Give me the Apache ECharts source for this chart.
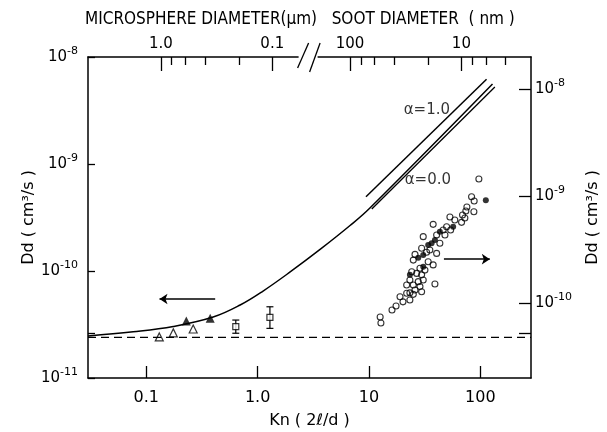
<!DOCTYPE html>
<html>
<head>
<meta charset="utf-8">
<script src="https://cdn.jsdelivr.net/npm/echarts@6/dist/echarts.min.js"></script>
<style>
html,body{margin:0;padding:0;background:#fff}
#main{width:607px;height:432px}
</style>
</head>
<body>
<div id="main"></div>
<script>
// Kn (2l/d), bottom axis
var knMin = 0.03, knMax = 285;
var knLabels = {'0.1': '0.1', '1': '1.0', '10': '10', '100': '100'};

// top axis: diameter -> Kn
var sphereK = 0.1355;   // Kn = sphereK / d (um)
var sootK = 676;        // Kn = sootK / d (nm)
var sphereMajor = [1.0, 0.1];
var sphereMajorText = ['1.0', '0.1'];
var sphereMinor = [0.8, 0.6, 0.4, 0.2];
var sootMajor = [100, 10];
var sootMajorText = ['100', '10'];
var sootMinor = [80, 60, 40, 20, 8, 6, 4];
var breakKn = 2.87;

// extra marks on the two y axes
var leftExtraTick = 2.6e-11;
var rightExtraTick = 5.2e-11;

// theory curve (left axis)
var curveKn = [0.030, 0.0764, 0.175, 0.399, 0.697, 1.12, 1.96, 3.64, 6.76, 10.2, 128.6];
var curveDd = [2.47e-11, 2.70e-11, 3.03e-11, 3.71e-11, 4.81e-11, 6.50e-11, 9.80e-11, 1.59e-10, 2.66e-10, 3.88e-10, 5.60e-9];
var alpha0Kn = [10.6, 135];
var alpha0Dd = [3.79e-10, 5.25e-9];
var alpha1Kn = [9.40, 113.7];
var alpha1Dd = [4.94e-10, 6.19e-9];
var dashKn = [0.03, 285];
var dashDd = [2.4e-11, 2.4e-11];

// microsphere data (left axis)
var openTriKn = [0.131, 0.175, 0.264];
var openTriDd = [2.42e-11, 2.64e-11, 2.87e-11];
var fillTriKn = [0.229, 0.375];
var fillTriDd = [3.41e-11, 3.61e-11];
var squareKn = [0.637, 1.29];
var squareDd = [3.02e-11, 3.69e-11];
var squareLo = [2.62e-11, 2.91e-11];
var squareHi = [3.48e-11, 4.63e-11];

// soot data (right axis)
var sootOpenKn = [97.0, 83.4, 88.0, 75.7, 74.1, 87.5, 69.2, 72.6, 53.3, 59.0, 67.8, 37.7, 49.8, 54.1, 46.4,
  40.5, 48.1, 30.7, 43.3, 29.7, 35.2, 32.9, 40.5, 25.9, 25.0, 34.0, 37.7, 28.7, 31.8, 24.2, 26.8, 29.7,
  30.7, 23.3, 27.7, 39.1, 25.0, 28.7, 21.8, 25.9, 29.7, 23.3, 21.8, 19.0, 25.0, 12.6, 12.8, 16.1, 17.5, 20.2, 23.3];
var sootOpenDd = [1.45e-9, 9.89e-10, 9.02e-10, 7.93e-10, 7.28e-10, 7.16e-10, 6.67e-10, 6.25e-10, 6.40e-10, 6.00e-10,
  5.70e-10, 5.46e-10, 5.19e-10, 4.83e-10, 4.83e-10, 4.34e-10, 4.34e-10, 4.19e-10, 3.63e-10, 3.26e-10, 3.14e-10,
  2.99e-10, 2.92e-10, 2.86e-10, 2.53e-10, 2.44e-10, 2.28e-10, 2.12e-10, 2.04e-10, 1.97e-10, 1.90e-10, 1.84e-10,
  1.65e-10, 1.65e-10, 1.59e-10, 1.51e-10, 1.48e-10, 1.43e-10, 1.48e-10, 1.33e-10, 1.28e-10, 1.25e-10, 1.24e-10,
  1.15e-10, 1.21e-10, 7.43e-11, 6.53e-11, 8.65e-11, 9.42e-11, 1.03e-10, 1.07e-10];
var sootFillKn = [112, 57.0, 43.3, 39.1, 36.5, 34.0, 30.7, 27.7, 30.7, 23.3];
var sootFillDd = [9.16e-10, 5.19e-10, 4.66e-10, 3.90e-10, 3.63e-10, 3.50e-10, 2.82e-10, 2.66e-10, 2.19e-10, 1.84e-10];

// arrows and alpha labels (left axis)
var leftArrowKn = [0.416, 0.1316], leftArrowDd = 5.47e-11;
var rightArrowKn = [47.1, 121.6], rightArrowDd = 1.29e-10;
var alphaLabels = [[33.1, 3.2e-9, 'α=1.0'], [33.8, 7.08e-10, 'α=0.0']];

function pairs(xs, ys) {
	var out = [];
	for (var i = 0; i < xs.length; i++) out.push([xs[i], ys[i]]);
	return out;
}
function lg(v) { return Math.log(v) / Math.LN10; }

var topMajorVals = [], topMajorText = [], topMinorVals = [];
sphereMajor.forEach(function(d, i) { topMajorVals.push(lg(sphereK / d)); topMajorText.push(sphereMajorText[i]); });
sootMajor.forEach(function(d, i) { topMajorVals.push(lg(sootK / d)); topMajorText.push(sootMajorText[i]); });
sphereMinor.forEach(function(d) { topMinorVals.push(lg(sphereK / d)); });
sootMinor.forEach(function(d) { topMinorVals.push(lg(sootK / d)); });

var font = 'DejaVu Sans';
var black = '#000';
var powRich = {
	b: {fontSize: 15, lineHeight: 15, verticalAlign: 'middle', fontFamily: font, color: black},
	s: {fontSize: 11, lineHeight: 11, padding: [0, 0, 12, 0], verticalAlign: 'middle', fontFamily: font, color: black}
};
function powLabel(v) {
	return '{b|10}{s|' + Math.round(lg(v)) + '}';
}
var axisLineStyle = {onZero: false, lineStyle: {color: black, width: 1.5}};
var tickStyle = {color: black, width: 1.3};

var myChart = echarts.init(document.getElementById('main'));
var option = {
	backgroundColor: '#fff',
	animation: false,
	title: {
		text: 'MICROSPHERE DIAMETER(µm)   SOOT DIAMETER  ( nm )',
		left: 80,
		top: 6,
		textStyle: {fontSize: 17, fontWeight: 'normal', color: black, fontFamily: 'DejaVu Sans Condensed, DejaVu Sans'}
	},
	grid: {left: 88, right: 76, top: 57, bottom: 54, outerBoundsMode: 'none'},
	xAxis: [{
		type: 'log',
		min: knMin,
		max: knMax,
		position: 'bottom',
		axisLine: axisLineStyle,
		axisTick: {inside: true, length: 12, lineStyle: tickStyle},
		axisLabel: {
			margin: 12, fontSize: 16, color: black, fontFamily: font,
			showMinLabel: false, showMaxLabel: false,
			formatter: function(v) {
				var k = String(Math.round(v * 10) / 10);
				return knLabels[k] || '';
			}
		},
		splitLine: {show: false},
		name: 'Kn ( 2ℓ/d )',
		nameLocation: 'middle',
		nameGap: 35,
		nameTextStyle: {fontSize: 16, color: black, fontFamily: font}
	}, {
		type: 'value',
		min: lg(knMin),
		max: lg(knMax),
		position: 'top',
		axisLine: axisLineStyle,
		axisTick: {inside: true, length: 14, customValues: topMajorVals, lineStyle: tickStyle},
		axisLabel: {
			margin: 5, fontSize: 15, color: black, fontFamily: font,
			customValues: topMajorVals,
			formatter: function(v) {
				var best = 0;
				for (var i = 1; i < topMajorVals.length; i++) {
					if (Math.abs(topMajorVals[i] - v) < Math.abs(topMajorVals[best] - v)) best = i;
				}
				return topMajorText[best];
			}
		},
		splitLine: {show: false}
	}, {
		type: 'value',
		min: lg(knMin),
		max: lg(knMax),
		position: 'top',
		axisLine: {show: false, onZero: false},
		axisTick: {inside: true, length: 8, customValues: topMinorVals, lineStyle: tickStyle},
		axisLabel: {show: false},
		splitLine: {show: false}
	}],
	yAxis: [{
		type: 'log',
		min: 1e-11,
		max: 1e-8,
		position: 'left',
		axisLine: axisLineStyle,
		axisTick: {inside: true, length: 7, lineStyle: tickStyle},
		axisLabel: {margin: 10, formatter: powLabel, rich: powRich},
		splitLine: {show: false},
		name: 'Dd ( cm³/s )',
		nameLocation: 'middle',
		nameRotate: 90,
		nameGap: 51,
		nameMoveOverlap: false,
		nameTextStyle: {fontSize: 16, color: black, fontFamily: font}
	}, {
		type: 'log',
		min: 2e-11,
		max: 2e-8,
		position: 'right',
		axisLine: axisLineStyle,
		axisTick: {inside: true, length: 12, lineStyle: tickStyle},
		axisLabel: {margin: 4, showMinLabel: false, showMaxLabel: false, formatter: powLabel, rich: powRich},
		splitLine: {show: false},
		name: 'Dd ( cm³/s )',
		nameLocation: 'middle',
		nameRotate: 90,
		nameGap: 54,
		nameMoveOverlap: false,
		nameTextStyle: {fontSize: 16, color: black, fontFamily: font}
	}, {
		type: 'value',
		min: -11,
		max: -8,
		position: 'left',
		axisLine: {show: false, onZero: false},
		axisTick: {inside: true, length: 7, customValues: [lg(leftExtraTick)], lineStyle: tickStyle},
		axisLabel: {show: false},
		splitLine: {show: false}
	}, {
		type: 'value',
		min: lg(2e-11),
		max: lg(2e-8),
		position: 'right',
		axisLine: {show: false, onZero: false},
		axisTick: {inside: true, length: 12, customValues: [lg(rightExtraTick)], lineStyle: tickStyle},
		axisLabel: {show: false},
		splitLine: {show: false}
	}],
	series: [{
		name: 'theory',
		type: 'line',
		data: pairs(curveKn, curveDd),
		smooth: 0.4,
		showSymbol: false,
		lineStyle: {color: black, width: 1.5}
	}, {
		name: 'alpha0',
		type: 'line',
		data: pairs(alpha0Kn, alpha0Dd),
		showSymbol: false,
		lineStyle: {color: black, width: 1.3}
	}, {
		name: 'alpha1',
		type: 'line',
		data: pairs(alpha1Kn, alpha1Dd),
		showSymbol: false,
		lineStyle: {color: black, width: 1.5}
	}, {
		name: 'diffusion limit',
		type: 'line',
		data: pairs(dashKn, dashDd),
		showSymbol: false,
		lineStyle: {color: black, width: 1.3, type: [8, 5]}
	}, {
		type: 'scatter',
		data: pairs(openTriKn, openTriDd),
		symbol: 'triangle',
		symbolSize: 8,
		itemStyle: {color: '#fff', borderColor: black, borderWidth: 1.2}
	}, {
		type: 'scatter',
		data: pairs(fillTriKn, fillTriDd),
		symbol: 'triangle',
		symbolSize: 9,
		itemStyle: {color: black}
	}, {
		type: 'custom',
		data: squareKn.map(function(k, i) { return [k, squareLo[i], squareHi[i]]; }),
		renderItem: function(params, api) {
			var hi = api.coord([api.value(0), api.value(2)]);
			var lo = api.coord([api.value(0), api.value(1)]);
			var st = {stroke: black, lineWidth: 1.2};
			return {type: 'group', children: [
				{type: 'line', shape: {x1: hi[0], y1: hi[1], x2: lo[0], y2: lo[1]}, style: st},
				{type: 'line', shape: {x1: hi[0] - 3.5, y1: hi[1], x2: hi[0] + 3.5, y2: hi[1]}, style: st},
				{type: 'line', shape: {x1: lo[0] - 3.5, y1: lo[1], x2: lo[0] + 3.5, y2: lo[1]}, style: st}
			]};
		}
	}, {
		type: 'scatter',
		data: pairs(squareKn, squareDd),
		symbol: 'rect',
		symbolSize: 6,
		z: 3,
		itemStyle: {color: '#fff', borderColor: black, borderWidth: 1.2}
	}, {
		type: 'scatter',
		yAxisIndex: 1,
		data: pairs(sootOpenKn, sootOpenDd),
		symbolSize: 6,
		itemStyle: {color: 'rgba(255,255,255,0)', borderColor: black, borderWidth: 1.1}
	}, {
		type: 'scatter',
		yAxisIndex: 1,
		data: pairs(sootFillKn, sootFillDd),
		symbolSize: 6,
		itemStyle: {color: black}
	}, {
		type: 'lines',
		coordinateSystem: 'cartesian2d',
		symbol: ['none', 'arrow'],
		symbolSize: 8,
		lineStyle: {color: black, width: 1.5, opacity: 1},
		data: [
			{coords: [[leftArrowKn[0], leftArrowDd], [leftArrowKn[1], leftArrowDd]]},
			{coords: [[rightArrowKn[0], rightArrowDd], [rightArrowKn[1], rightArrowDd]]}
		]
	}, {
		type: 'scatter',
		data: alphaLabels.map(function(a) { return {value: [a[0], a[1]], name: a[2]}; }),
		symbolSize: 0,
		label: {show: true, position: 'inside', formatter: '{b}', fontSize: 15, color: black, fontFamily: font}
	}]
};
myChart.setOption(option);

// axis break mark on the top axis
var bx = myChart.convertToPixel({xAxisIndex: 0}, breakKn);
var ty = myChart.convertToPixel({yAxisIndex: 0}, 1e-8);
var brk = {stroke: black, lineWidth: 1.3};
myChart.setOption({
	graphic: [
		{type: 'rect', z: 100, shape: {x: bx - 10, y: ty - 3, width: 19, height: 6}, style: {fill: '#fff'}},
		{type: 'line', z: 101, shape: {x1: bx, y1: ty - 14, x2: bx - 11, y2: ty + 11}, style: brk},
		{type: 'line', z: 101, shape: {x1: bx + 11.5, y1: ty - 14, x2: bx + 1, y2: ty + 15}, style: brk}
	]
});

window.addEventListener('resize', function() { myChart.resize(); });
</script>
</body>
</html>
